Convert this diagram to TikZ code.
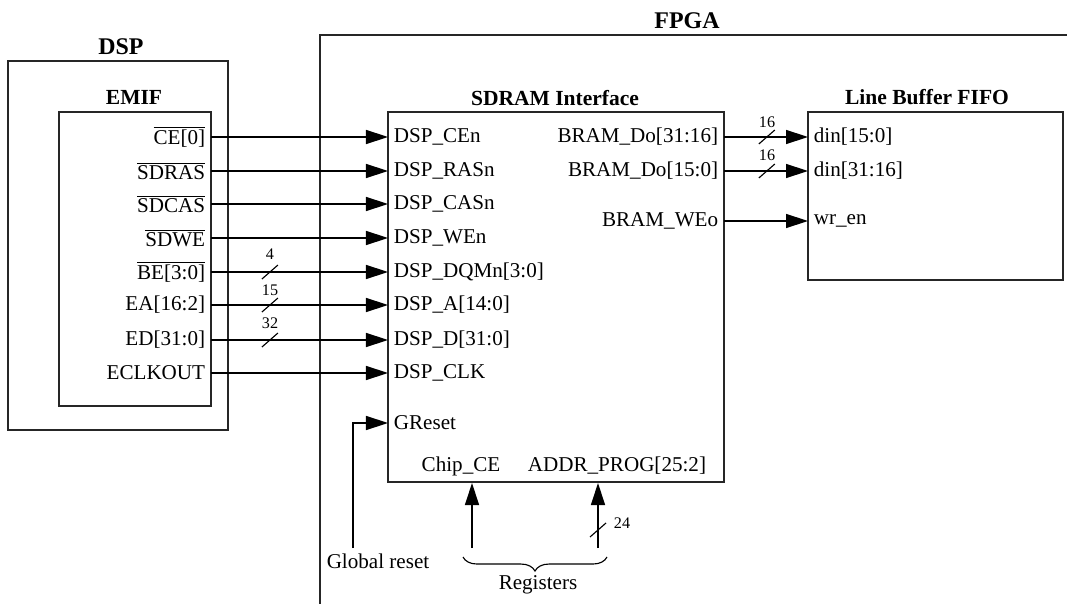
\documentclass[tikz,border=0pt]{standalone}
\usepackage{fontspec}
\setmainfont{Liberation Serif}
\usepackage{tikz}
\usetikzlibrary{arrows.meta, positioning, calc, decorations.pathreplacing}

\newcommand{\nbar}[1]{$\overline{\mbox{#1}}$}

\begin{document}
\begin{tikzpicture}[x=0.025cm, y=-0.025cm,
    font=\fontsize{15}{17}\selectfont,
    box/.style={draw=black!85, line width=1.4pt, inner sep=0pt},
    title/.style={font=\fontsize{15.3}{18}\selectfont\bfseries},
    bigtitle/.style={font=\fontsize{17}{20}\selectfont\bfseries},
    pin/.style={inner xsep=4pt, inner ysep=1pt},
    sig/.style={line width=1pt, -{Triangle[length=5.5mm, width=3.5mm]}},
    bus/.style={line width=0.8pt},
    buswidth/.style={font=\fontsize{11.5}{13}\selectfont, inner sep=1pt}]
  \useasboundingbox (0,0) rectangle (1067,604);

  % blocks
  \node[box, minimum width=5.5cm, minimum height=9.225cm] (dsp) at (118,245.5) {};
  \node[box, minimum width=3.8cm, minimum height=7.35cm] (emif) at (135,259) {};
  \node[box, minimum width=8.4cm, minimum height=9.25cm] (sdram) at (556,297) {};
  \node[box, minimum width=6.375cm, minimum height=4.2cm] (fifo) at (935.5,196) {};
  \draw[box] (320,604) -- (320,35) -- (1067,35);

  % titles
  \node[bigtitle] (dspt) at (121,47) {DSP};
  \node[title] (emift) at (134,97) {EMIF};
  \node[bigtitle] (fpgat) at (687,21) {FPGA};
  \node[title] (sdramt) at (555,98) {SDRAM Interface};
  \node[title] (fifot) at (927,97) {Line Buffer FIFO};

  % EMIF -> SDRAM interface
  \foreach \y/\a/\b [count=\k] in {
      137/{\nbar{CE[0]}}/{DSP\_CEn},
      171/{\nbar{SDRAS}}/{DSP\_RASn},
      204/{\nbar{SDCAS}}/{DSP\_CASn},
      238/{\nbar{SDWE}}/{DSP\_WEn},
      272/{\nbar{BE[3:0]}}/{DSP\_DQMn[3:0]},
      305/{EA[16:2]}/{DSP\_A[14:0]},
      340/{ED[31:0]}/{DSP\_D[31:0]},
      373/{ECLKOUT}/{DSP\_CLK}} {
    \node[pin, anchor=east] (e\k) at (211,\y) {\a};
    \node[pin, anchor=west] (d\k) at (388,\y) {\b};
    \draw[sig] (e\k.east) -- (d\k.west);
  }
  % bus widths
  \foreach \k/\w/\ly in {5/4/254, 6/15/290, 7/32/323} {
    \draw[bus] ($(e\k.east)!0.333!(d\k.west)$) +(-8,7) -- +(8,-7);
    \node[buswidth] (w\k) at (270,\ly) {\w};
  }

  % SDRAM interface -> FIFO
  \node[pin, anchor=east] (o1) at (724,137) {BRAM\_Do[31:16]};
  \node[pin, anchor=east] (o2) at (724,171) {BRAM\_Do[15:0]};
  \node[pin, anchor=east] (o3) at (724,221) {BRAM\_WEo};
  \node[pin, anchor=west] (f1) at (808,137) {din[15:0]};
  \node[pin, anchor=west] (f2) at (808,171) {din[31:16]};
  \node[pin, anchor=west] (f3) at (808,221) {wr\_en};
  \foreach \k in {1,2,3}
    \draw[sig] (o\k.east) -- (f\k.west);
  \foreach \k/\ly in {1/122, 2/155} {
    \draw[bus] ($(o\k.east)!0.51!(f\k.west)$) +(-8,7) -- +(8,-7);
    \node[buswidth] (v\k) at (767,\ly) {16};
  }

  % reset
  \node[pin, anchor=west] (d9) at (388,423) {GReset};
  \node (grl) at (378,561) {Global reset};
  \coordinate (gr) at (353,548);
  \draw[sig] (gr) |- (d9.west);

  % registers
  \node (cce) at (461,466) {Chip\_CE};
  \node (addr) at (617,466) {ADDR\_PROG[25:2]};
  \coordinate (r1) at (472,548);
  \coordinate (r2) at (598,548);
  \draw[sig] (r1) -- (r1 |- sdram.south);
  \draw[sig] (r2) -- (r2 |- sdram.south);
  \draw[bus] (598,530) +(-8,7) -- +(8,-7);
  \node[buswidth] (w24) at (622,523) {24};
  \draw[bus, decorate, decoration={brace, mirror, amplitude=10pt}]
    (463,557) -- (607,557);
  \node (regs) at (538,585) {Registers};
\end{tikzpicture}
\end{document}
